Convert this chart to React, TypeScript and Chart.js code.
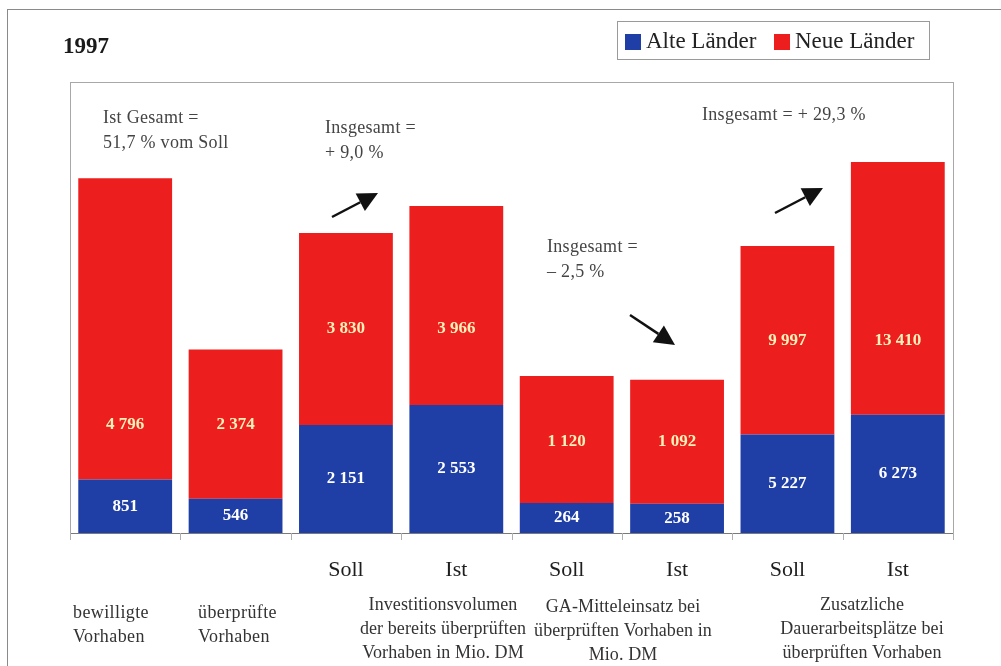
import React, { useEffect, useRef } from 'react';
import { Chart, registerables } from 'chart.js';

Chart.register(...registerables);

// ---- data ----
const categories = ['bewilligte Vorhaben', 'überprüfte Vorhaben', 'Soll', 'Ist', 'Soll', 'Ist', 'Soll', 'Ist'];
const tickLabels = ['', '', 'Soll', 'Ist', 'Soll', 'Ist', 'Soll', 'Ist'];
const alteLaender = [851, 546, 2151, 2553, 264, 258, 5227, 6273];
const neueLaender = [4796, 2374, 3830, 3966, 1120, 1092, 9997, 13410];
const groupOf = [0, 0, 1, 1, 2, 2, 3, 3];
const groupAxisMax = [7180, 8990, 3975, 23925];
const barTitles = [['bewilligte', 'Vorhaben'], ['überprüfte', 'Vorhaben']];
const groupTitles = [
  ['Investitionsvolumen', 'der bereits überprüften', 'Vorhaben in Mio. DM'],
  ['GA-Mitteleinsatz bei', 'überprüften Vorhaben in', 'Mio. DM'],
  ['Zusatzliche', 'Dauerarbeitsplätze bei', 'überprüften Vorhaben'],
];
const notes = [
  ['Ist Gesamt =', '51,7 % vom Soll'],
  ['Insgesamt =', '+ 9,0 %'],
  ['Insgesamt =', '– 2,5 %'],
  ['Insgesamt = + 29,3 %'],
];
const seriesNames = ['Alte Länder', 'Neue Länder'];
const title = '1997';

const BLUE = '#1f3fa6';
const RED = '#ec1e1e';
const SERIF = '"Liberation Serif", "Times New Roman", serif';

const fmt = (v: number) => String(v).replace(/\B(?=(\d{3})+(?!\d))/g, ' ');

function arrow(ctx: CanvasRenderingContext2D, x1: number, y1: number, x2: number, y2: number) {
  const ang = Math.atan2(y2 - y1, x2 - x1);
  const len = 20;
  const hw = 10;
  const bx = x2 - len * Math.cos(ang);
  const by = y2 - len * Math.sin(ang);
  ctx.save();
  ctx.strokeStyle = '#111';
  ctx.fillStyle = '#111';
  ctx.lineWidth = 2.5;
  ctx.beginPath();
  ctx.moveTo(x1, y1);
  ctx.lineTo(bx, by);
  ctx.stroke();
  ctx.beginPath();
  ctx.moveTo(x2, y2);
  ctx.lineTo(bx + hw * Math.sin(ang), by - hw * Math.cos(ang));
  ctx.lineTo(bx - hw * Math.sin(ang), by + hw * Math.cos(ang));
  ctx.closePath();
  ctx.fill();
  ctx.restore();
}

const decorPlugin = {
  id: 'decor',
  beforeDraw(chart: any) {
    const { ctx, chartArea: a, width, height } = chart;
    ctx.save();
    ctx.fillStyle = '#ffffff';
    ctx.fillRect(0, 0, width, height);
    ctx.strokeStyle = '#8a8a8a';
    ctx.lineWidth = 1;
    ctx.strokeRect(7.5, 9.5, width + 20, height + 20);
    ctx.strokeStyle = '#a8a8a8';
    ctx.strokeRect(a.left + 0.5, a.top + 0.5, a.right - a.left, a.bottom - a.top);
    ctx.restore();
  },
  afterDatasetsDraw(chart: any) {
    const { ctx, chartArea: a } = chart;
    const xs = chart.scales.x;
    ctx.save();
    ctx.strokeStyle = '#7a7a7a';
    ctx.lineWidth = 1;
    ctx.beginPath();
    ctx.moveTo(a.left, a.bottom + 0.5);
    ctx.lineTo(a.right, a.bottom + 0.5);
    ctx.stroke();
    const cw = (a.right - a.left) / categories.length;
    ctx.strokeStyle = '#b0b0b0';
    for (let k = 0; k <= categories.length; k++) {
      const x = Math.round(a.left + k * cw) + 0.5;
      ctx.beginPath();
      ctx.moveTo(x, a.bottom);
      ctx.lineTo(x, a.bottom + 7);
      ctx.stroke();
    }
    ctx.font = `bold 17px ${SERIF}`;
    ctx.textAlign = 'center';
    ctx.textBaseline = 'middle';
    for (let i = 0; i < categories.length; i++) {
      const g = groupOf[i];
      const ys = chart.scales['y' + g];
      const x = xs.getPixelForValue(i);
      const y0 = ys.getPixelForValue(0);
      const yb = ys.getPixelForValue(alteLaender[i]);
      let j = i;
      for (let k = 0; k < categories.length; k++) {
        if (groupOf[k] === g && alteLaender[k] + neueLaender[k] < alteLaender[j] + neueLaender[j]) j = k;
      }
      const ybj = ys.getPixelForValue(alteLaender[j]);
      const ytj = ys.getPixelForValue(alteLaender[j] + neueLaender[j]);
      ctx.fillStyle = '#ffffff';
      ctx.fillText(fmt(alteLaender[i]), x, (y0 + yb) / 2);
      ctx.fillStyle = '#fff1b8';
      ctx.fillText(fmt(neueLaender[i]), x, (ybj + ytj) / 2);
    }
    ctx.restore();
  },
  afterDraw(chart: any) {
    const { ctx } = chart;
    const xs = chart.scales.x;
    ctx.save();
    ctx.fillStyle = '#1a1a1a';
    ctx.font = `bold 23px ${SERIF}`;
    ctx.textAlign = 'left';
    ctx.textBaseline = 'alphabetic';
    ctx.fillText(title, 63, 53);

    // legend
    ctx.strokeStyle = '#9a9a9a';
    ctx.lineWidth = 1;
    ctx.strokeRect(617.5, 21.5, 312, 38);
    ctx.font = `23px ${SERIF}`;
    ctx.textBaseline = 'middle';
    ctx.fillStyle = BLUE;
    ctx.fillRect(625, 34, 16, 16);
    ctx.fillStyle = '#222';
    ctx.fillText(seriesNames[0], 646, 42);
    ctx.fillStyle = RED;
    ctx.fillRect(774, 34, 16, 16);
    ctx.fillStyle = '#222';
    ctx.fillText(seriesNames[1], 795, 42);

    // Soll / Ist
    ctx.font = `22px ${SERIF}`;
    ctx.textAlign = 'center';
    ctx.fillStyle = '#1e1e1e';
    for (let i = 0; i < tickLabels.length; i++) {
      if (tickLabels[i]) ctx.fillText(tickLabels[i], xs.getPixelForValue(i), 570);
    }

    // category titles
    ctx.font = `18px ${SERIF}`;
    (ctx as any).letterSpacing = '0.4px';
    ctx.fillStyle = '#333';
    ctx.textAlign = 'left';
    const bx = [73, 198];
    barTitles.forEach((lines, k) => {
      lines.forEach((t, l) => ctx.fillText(t, bx[k], 613 + l * 24));
    });
    (ctx as any).letterSpacing = '0.1px';
    ctx.textAlign = 'center';
    const gx = [443, 623, 862];
    const gy = [605, 607, 605];
    groupTitles.forEach((lines, k) => {
      lines.forEach((t, l) => ctx.fillText(t, gx[k], gy[k] + l * 24));
    });

    // notes
    ctx.font = `18px ${SERIF}`;
    (ctx as any).letterSpacing = '0.3px';
    ctx.fillStyle = '#444';
    ctx.textAlign = 'left';
    const nx = [103, 325, 547, 702];
    const ny = [118, 128, 247, 115];
    notes.forEach((lines, k) => {
      lines.forEach((t, l) => ctx.fillText(t, nx[k], ny[k] + l * 25));
    });
    (ctx as any).letterSpacing = '0px';

    arrow(ctx, 332, 217, 378, 193);
    arrow(ctx, 630, 315, 675, 345);
    arrow(ctx, 775, 213, 823, 188);
    ctx.restore();
  },
};

export default function App() {
  const ref = useRef<HTMLCanvasElement | null>(null);
  useEffect(() => {
    if (!ref.current) return;
    const datasets: any[] = [];
    const scales: any = {
      x: { display: false, stacked: true, grid: { display: false } },
    };
    for (let g = 0; g < groupAxisMax.length; g++) {
      scales['y' + g] = { display: false, stacked: true, min: 0, max: groupAxisMax[g] };
      datasets.push({
        label: seriesNames[0],
        data: alteLaender.map((v, i) => (groupOf[i] === g ? v : null)),
        backgroundColor: BLUE,
        yAxisID: 'y' + g,
        stack: 's' + g,
        grouped: false,
        barPercentage: 0.85,
        categoryPercentage: 1,
      });
      datasets.push({
        label: seriesNames[1],
        data: neueLaender.map((v, i) => (groupOf[i] === g ? v : null)),
        backgroundColor: RED,
        yAxisID: 'y' + g,
        stack: 's' + g,
        grouped: false,
        barPercentage: 0.85,
        categoryPercentage: 1,
      });
    }
    const chart = new Chart(ref.current, {
      type: 'bar',
      data: { labels: categories, datasets },
      options: {
        responsive: false,
        animation: false,
        layout: { padding: { left: 70, right: 48, top: 82, bottom: 133 } },
        plugins: { legend: { display: false }, tooltip: { enabled: false } },
        scales,
      },
      plugins: [decorPlugin],
    });
    return () => chart.destroy();
  }, []);
  return (
    <div style={{ position: 'absolute', left: 0, top: 0, width: 1001, height: 666 }}>
      <canvas ref={ref} width={1001} height={666} />
    </div>
  );
}
